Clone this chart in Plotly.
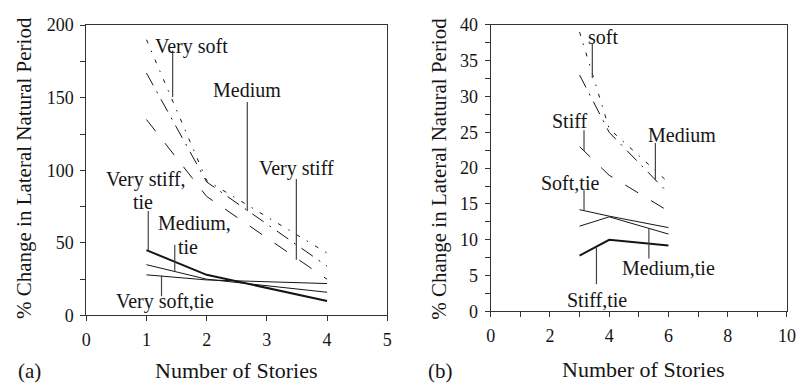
import plotly.graph_objects as go

# ---- data: panel (a) ----
stories_a = [1, 2, 4]
very_soft = [190, 93, 43]
medium = [167, 92, 34]
very_stiff = [135, 82, 25]
very_stiff_tie = [45, 28, 10]
medium_tie = [35, 25, 16]
very_soft_tie = [28, 24.5, 22]

# ---- data: panel (b) ----
stories_b = [3, 4, 6]
soft = [39, 25.5, 18]
medium_b = [33, 25, 16.5]
stiff = [23, 19, 14]
soft_tie = [14.2, 13.3, 11.7]
medium_tie_b = [11.9, 13.2, 10.8]
stiff_tie = [7.8, 10, 9.2]

# tick values
xticks_a = [0, 1, 2, 3, 4, 5]
yticks_a = [0, 25, 50, 75, 100, 125, 150, 175, 200]
xticks_b = list(range(0, 11))
yticks_b = [0, 2.5, 5, 7.5, 10, 12.5, 15, 17.5, 20, 22.5, 25, 27.5, 30, 32.5, 35, 37.5, 40]

FONT = "Liberation Serif"
INK = "#151515"
LEAD = "#444444"

DOTS = "4px,8px,1.5px,8px"
DASHDOT = "14px,7px,2px,7px"
LONGDASH = "15px,15px"

fig = go.Figure()


def add_line(x, y, dash, width, axes):
    xa, ya = axes
    fig.add_trace(go.Scatter(
        x=x, y=y, mode="lines", xaxis=xa, yaxis=ya,
        line=dict(color=INK, width=width, dash=dash),
        showlegend=False, hoverinfo="skip"))


# panel (a)
add_line(stories_a, very_soft, DOTS, 1, ("x", "y"))
add_line(stories_a, medium, DASHDOT, 1, ("x", "y"))
add_line(stories_a, very_stiff, LONGDASH, 1, ("x", "y"))
add_line(stories_a, very_stiff_tie, "solid", 2, ("x", "y"))
add_line(stories_a, medium_tie, "solid", 1, ("x", "y"))
add_line(stories_a, very_soft_tie, "solid", 1, ("x", "y"))

# panel (b)
add_line(stories_b, soft, DOTS, 1, ("x2", "y2"))
add_line(stories_b, medium_b, DASHDOT, 1, ("x2", "y2"))
add_line(stories_b, stiff, LONGDASH, 1, ("x2", "y2"))
add_line(stories_b, soft_tie, "solid", 1, ("x2", "y2"))
add_line(stories_b, medium_tie_b, "solid", 1, ("x2", "y2"))
add_line(stories_b, stiff_tie, "solid", 2, ("x2", "y2"))

# curve labels: (text, x, y, axes)
labels = [
    ("Very soft", 1.75, 185.5, "a"),
    ("Medium", 2.67, 155, "a"),
    ("Very stiff", 3.49, 101.5, "a"),
    ("Very stiff,", 0.99, 94, "a"),
    ("tie", 0.94, 78, "a"),
    ("Medium,", 1.8, 63.5, "a"),
    ("tie", 1.69, 47, "a"),
    ("Very soft,tie", 1.315, 9.6, "a"),
    ("soft", 3.79, 38.3, "b"),
    ("Stiff", 2.68, 26.6, "b"),
    ("Medium", 6.46, 24.6, "b"),
    ("Soft,tie", 2.66, 17.9, "b"),
    ("Medium,tie", 6.0, 6.1, "b"),
    ("Stiff,tie", 3.58, 1.55, "b"),
]

# leader lines: (x, y_top, y_bottom, axes)
leaders = [
    (1.435, 182.5, 150.5, "a"),
    (2.675, 147, 72, "a"),
    (3.49, 94, 38.4, "a"),
    (1.03, 72, 45, "a"),
    (1.47, 48.8, 30.3, "a"),
    (1.25, 27.5, 13.3, "a"),
    (3.43, 37.4, 32.6, "b"),
    (3.15, 25.3, 22.4, "b"),
    (5.56, 23.5, 18.3, "b"),
    (3.15, 16.9, 14.1, "b"),
    (5.34, 11.5, 7.4, "b"),
    (3.57, 9.0, 3.8, "b"),
]

ref = {"a": ("x", "y"), "b": ("x2", "y2")}

annotations = []
for text, x, y, p in labels:
    xr, yr = ref[p]
    annotations.append(dict(
        text=text, x=x, y=y, xref=xr, yref=yr, showarrow=False,
        xanchor="center", yanchor="middle",
        font=dict(family=FONT, size=20, color=INK)))

shapes = []
for x, y0, y1, p in leaders:
    xr, yr = ref[p]
    shapes.append(dict(
        type="line", xref=xr, yref=yr, x0=x, x1=x, y0=y0, y1=y1,
        line=dict(color=LEAD, width=1.2)))

# axis titles and panel tags
annotations += [
    dict(text="Number of Stories", x=236 / 807, y=1 - 380 / 390, xref="paper", yref="paper",
         showarrow=False, xanchor="center", yanchor="middle",
         font=dict(family=FONT, size=22, color=INK)),
    dict(text="Number of Stories", x=650 / 807, y=1 - 379 / 390, xref="paper", yref="paper",
         showarrow=False, xanchor="center", yanchor="middle",
         font=dict(family=FONT, size=22, color=INK)),
    dict(text="(a)", x=25 / 807, y=1 - 381 / 390, xref="paper", yref="paper",
         showarrow=False, xanchor="center", yanchor="middle",
         font=dict(family=FONT, size=21, color=INK)),
    dict(text="(b)", x=443 / 807, y=1 - 380 / 390, xref="paper", yref="paper",
         showarrow=False, xanchor="center", yanchor="middle",
         font=dict(family=FONT, size=21, color=INK)),
    dict(text="% Change in Lateral Natural Period", x=20 / 807, y=1 - 167 / 390,
         xref="paper", yref="paper", showarrow=False, textangle=-90,
         xanchor="center", yanchor="middle",
         font=dict(family=FONT, size=21, color=INK)),
    dict(text="% Change in Lateral Natural Period", x=442 / 807, y=1 - 167 / 390,
         xref="paper", yref="paper", showarrow=False, textangle=-90,
         xanchor="center", yanchor="middle",
         font=dict(family=FONT, size=21, color=INK)),
]


def axis(domain, rng, tickvals, ticktext):
    return dict(
        domain=domain, range=rng, tickvals=tickvals, ticktext=ticktext,
        showgrid=False, zeroline=False, showline=True, mirror=True,
        linecolor="#333333", linewidth=1, ticks="outside", ticklen=5,
        tickwidth=1, tickcolor="#333333", ticklabelstandoff=3,
        tickfont=dict(family=FONT, size=18, color=INK))


fig.update_layout(
    width=807, height=390,
    margin=dict(l=0, r=0, t=0, b=0),
    paper_bgcolor="white", plot_bgcolor="white",
    font=dict(family=FONT, color=INK),
    xaxis=axis([82.7 / 807, 389 / 807], [0, 5], xticks_a, [str(v) for v in xticks_a]),
    yaxis=axis([1 - 322 / 390, 1 - 16 / 390], [0, 200], yticks_a,
               [str(v) if v % 50 == 0 else "" for v in yticks_a]),
    xaxis2=dict(axis([494.3 / 807, 795.7 / 807], [0, 10], xticks_b,
                     [str(v) if v % 2 == 0 else "" for v in xticks_b]), anchor="y2"),
    yaxis2=dict(axis([1 - 317.7 / 390, 1 - 15.7 / 390], [0, 40], yticks_b,
                     [str(int(v)) if v % 5 == 0 else "" for v in yticks_b]), anchor="x2"),
    annotations=annotations,
    shapes=shapes,
)
fig.update_layout(xaxis=dict(anchor="y"), yaxis=dict(anchor="x"))

fig.write_html("out.html")
